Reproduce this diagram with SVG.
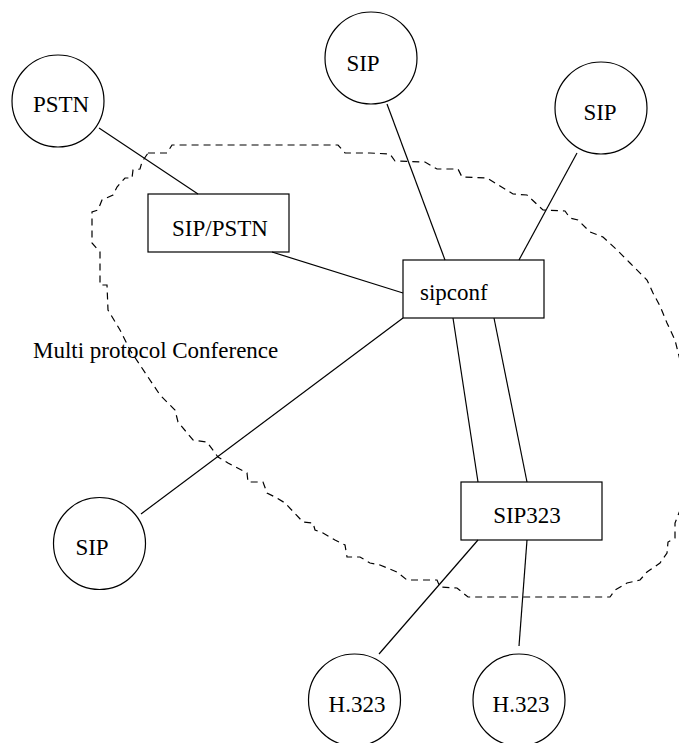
<svg xmlns="http://www.w3.org/2000/svg" width="679" height="743" viewBox="0 0 679 743">
<style>
.n{fill:none;stroke:#000;stroke-width:1.2}
.t{font-family:"Liberation Serif","Times New Roman",serif;font-size:23px;fill:#000}
.m{text-anchor:middle}
.c line{stroke:#000;stroke-width:1.2}
.cloud{fill:none;stroke:#000;stroke-width:1.2;stroke-dasharray:7 5}
</style>
<rect width="679" height="743" fill="#fff"/>
<path class="cloud" d="M148,153 L167,153 L172,145 L338,145 L345,153 L370,153 L390,154 L395,161 L425,162 L437,169 L458,169 L462,177 L487,178 L500,186 L513,194 L527,195 L543,210 L565,211 L570,218 L578,220 L590,232 L603,237 L617,250 L630,263 L647,280 L653,293 L660,306 L667,323 L675,340 L680,360 L686,400 L688,450 L684,500 L675,523 L675,538 L668,542 L667,553 L660,563 L647,572 L640,580 L627,583 L615,590 L610,597 L468,597 L457,588 L440,587 L437,580 L407,580 L397,572 L380,565 L370,563 L360,557 L347,557 L345,545 L335,540 L323,533 L315,530 L313,523 L303,522 L285,503 L277,498 L267,493 L263,482 L248,482 L247,473 L228,463 L218,457 L215,453 L207,442 L193,440 L178,422 L175,410 L160,395 L130,350 L120,330 L108,310 L107,285 L100,285 L100,252 L92,243 L92,212 L98,210 L102,200 L113,195 L117,187 L125,178 L132,178 L133,170 L140,169 L142,162 Z"/>
<text class="t" x="33" y="358">Multi protocol Conference</text>
<g class="c" id="connectors">
<line x1="99" y1="128" x2="198" y2="194"/>
<line x1="272" y1="252" x2="403" y2="293"/>
<line x1="387" y1="104" x2="445" y2="260"/>
<line x1="577" y1="153" x2="519" y2="260"/>
<line x1="403" y1="318" x2="141" y2="514"/>
<line x1="453" y1="318" x2="478" y2="482"/>
<line x1="494" y1="318" x2="527" y2="482"/>
<line x1="478" y1="540" x2="379" y2="654"/>
<line x1="527" y1="540" x2="519" y2="646"/>
</g>
<g id="pstn"><circle class="n" cx="58" cy="101" r="46"/><text class="t m" x="61" y="112">PSTN</text></g>
<g id="sip-top"><circle class="n" cx="371" cy="58" r="46"/><text class="t m" x="363" y="71">SIP</text></g>
<g id="sip-right"><circle class="n" cx="601" cy="108" r="46"/><text class="t m" x="600" y="120">SIP</text></g>
<g id="sip-left"><circle class="n" cx="99.5" cy="543.5" r="46"/><text class="t m" x="92" y="555">SIP</text></g>
<g id="h323-a"><circle class="n" cx="354.5" cy="700" r="46"/><text class="t m" x="357" y="712">H.323</text></g>
<g id="h323-b"><circle class="n" cx="519" cy="700" r="46"/><text class="t m" x="521" y="712">H.323</text></g>
<g id="sip-pstn"><rect class="n" x="148" y="194" width="141" height="58"/><text class="t m" x="220" y="236">SIP/PSTN</text></g>
<g id="sipconf"><rect class="n" x="403" y="260" width="141" height="58"/><text class="t" x="420" y="300">sipconf</text></g>
<g id="sip323"><rect class="n" x="461" y="482" width="141" height="58"/><text class="t m" x="527" y="523">SIP323</text></g>
</svg>
